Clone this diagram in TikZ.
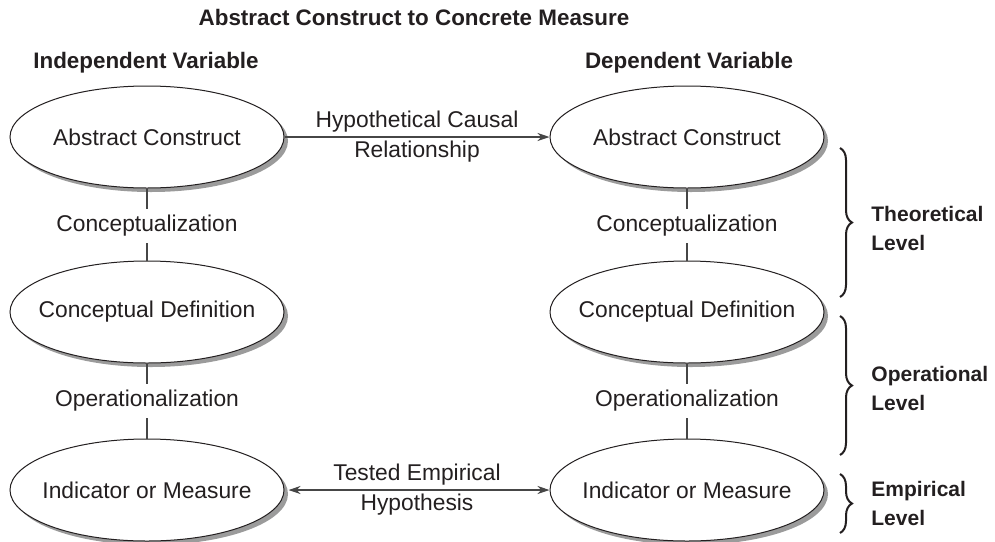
\documentclass[tikz,border=0pt]{standalone}
\usepackage{fontspec}
\setmainfont{Liberation Sans}
\usepackage{tikz}
\usetikzlibrary{arrows.meta}
\usetikzlibrary{positioning, shapes.geometric, shadows}
\usetikzlibrary{decorations.pathreplacing}
\definecolor{inkgrey}{RGB}{35,31,32}
\definecolor{linegrey}{RGB}{70,70,70}
\definecolor{shadowgrey}{RGB}{155,155,155}
\tikzset{
construct/.style = { ellipse, draw = inkgrey, fill = white, line width = 0.5pt, minimum width = 137pt, minimum height = 51pt, inner xsep = -10pt, inner ysep = 0pt, drop shadow = {shadow xshift = 2pt, shadow yshift = -2pt, fill = shadowgrey, opacity = 1} },
process label/.style = { inner xsep = 2pt, inner ysep = 3pt },
pair label/.style = { align = center, inner sep = 0pt },
heading/.style = { font = \fontsize{11.2}{15}\selectfont\bfseries },
level label/.style = { font = \fontsize{10.5}{14.5}\selectfont\bfseries, align = left, anchor = west, inner sep = 0pt },
link/.style = { draw = linegrey, line width = 0.6pt },
level brace/.style = { draw = inkgrey, line width = 1pt, decorate, decoration = { brace, amplitude = 6pt } },
}

\begin{document}
\begin{tikzpicture}[x = 0.5pt, y = -0.5pt, inkgrey, font = \fontsize{11.4}{15}\selectfont]
    \useasboundingbox (0, 0) rectangle (995, 541);
    \node[heading] (title) at (414, 17) {Abstract Construct to Concrete Measure};
    \node[heading] (iv head) at (146, 63) {Independent Variable};
    \node[heading] (dv head) at (689, 63) {Dependent Variable};
    % independent variable
    \node[construct] (iv abstract) at (147, 137) {Abstract Construct};
    \node[construct] (iv definition) at (147, 312) {Conceptual Definition};
    \node[construct] (iv measure) at (147, 490) {Indicator or Measure};
    \node[process label] (iv concept) at (147, 226) {Conceptualization};
    \node[process label] (iv operation) at (147, 401) {Operationalization};
    % dependent variable
    \node[construct] (dv abstract) at (687, 137) {Abstract Construct};
    \node[construct] (dv definition) at (687, 312) {Conceptual Definition};
    \node[construct] (dv measure) at (687, 490) {Indicator or Measure};
    \node[process label] (dv concept) at (687, 226) {Conceptualization};
    \node[process label] (dv operation) at (687, 401) {Operationalization};
    \draw[link] (iv abstract) -- (iv concept);
    \draw[link] (iv concept) -- (iv definition);
    \draw[link] (iv definition) -- (iv operation);
    \draw[link] (iv operation) -- (iv measure);
    \draw[link] (dv abstract) -- (dv concept);
    \draw[link] (dv concept) -- (dv definition);
    \draw[link] (dv definition) -- (dv operation);
    \draw[link] (dv operation) -- (dv measure);
    \draw[link, -{Stealth[length = 6pt, width = 4pt]}] (iv abstract) -- node[pair label] (causal) {Hypothetical Causal\\Relationship} (dv abstract);
    \draw[link, {Stealth[length = 6pt, width = 4pt]}-{Stealth[length = 6pt, width = 4pt]}, shorten <= 2pt] (iv measure) -- node[pair label] (empirical) {Tested Empirical\\Hypothesis} (dv measure);
    % levels
    \draw[level brace] (840, 148) -- (840, 297);
    \draw[level brace] (840, 316) -- (840, 455);
    \draw[level brace] (840, 474) -- (840, 533);
    \node[level label] (theory) at (871, 228) {Theoretical\\Level};
    \node[level label] (operational) at (871, 388) {Operational\\Level};
    \node[level label] (empirical level) at (871, 503) {Empirical\\Level};
\end{tikzpicture}
\end{document}
